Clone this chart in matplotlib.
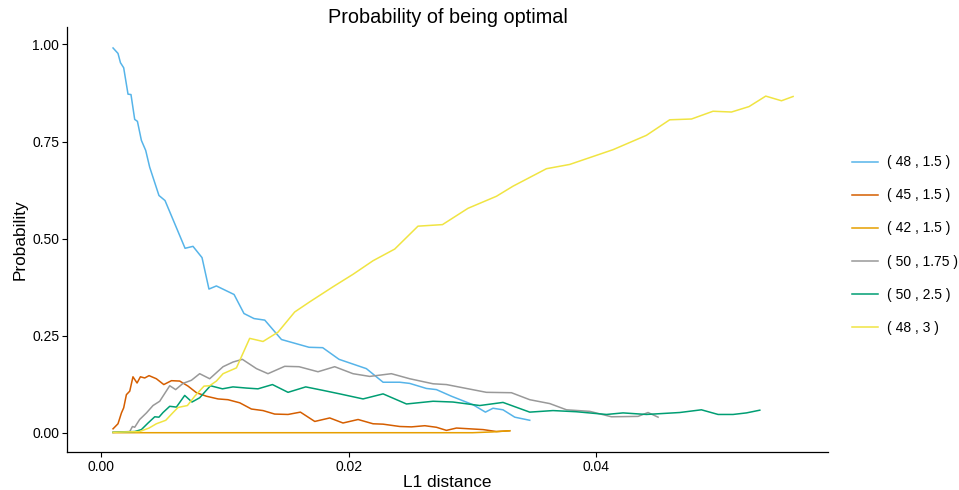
import matplotlib
matplotlib.use("Agg")
import matplotlib.pyplot as plt
import matplotlib.ticker as mticker

plt.rcParams['font.family'] = ['Liberation Sans', 'DejaVu Sans']

# series
labels = ['( 48 , 1.5 )', '( 45 , 1.5 )', '( 42 , 1.5 )',
          '( 50 , 1.75 )', '( 50 , 2.5 )', '( 48 , 3 )']
colors = ['#56B4E9', '#D55E00', '#E69F00', '#999999', '#009E73', '#F0E442']

x_48_15 = [0.00094, 0.00134, 0.00154, 0.00180, 0.00215, 0.00239, 0.00269, 0.00291,
           0.00323, 0.00358, 0.00390, 0.00465, 0.00514, 0.00676, 0.00740, 0.00813,
           0.00869, 0.00929, 0.01072, 0.01152, 0.01233, 0.01320, 0.01455, 0.01678,
           0.01788, 0.01920, 0.02141, 0.02276, 0.02411, 0.02491, 0.02626, 0.02707,
           0.02828, 0.03003, 0.03103, 0.03164, 0.03245, 0.03340, 0.03461]
y_48_15 = [0.991, 0.977, 0.953, 0.940, 0.872, 0.871, 0.807, 0.802,
           0.753, 0.727, 0.684, 0.611, 0.598, 0.475, 0.480, 0.451,
           0.370, 0.378, 0.356, 0.307, 0.294, 0.290, 0.240, 0.220,
           0.219, 0.189, 0.165, 0.130, 0.130, 0.127, 0.114, 0.111,
           0.094, 0.072, 0.053, 0.063, 0.059, 0.040, 0.032]

x_45_15 = [0.00094, 0.00134, 0.00162, 0.00180, 0.00202, 0.00229, 0.00255, 0.00288,
           0.00315, 0.00350, 0.00385, 0.00444, 0.00504, 0.00566, 0.00633, 0.00700,
           0.00768, 0.00848, 0.00942, 0.01023, 0.01118, 0.01212, 0.01306, 0.01400,
           0.01508, 0.01608, 0.01724, 0.01845, 0.01952, 0.02074, 0.02195, 0.02276,
           0.02411, 0.02505, 0.02613, 0.02707, 0.02788, 0.02869, 0.02976, 0.03084,
           0.03192, 0.03299]
y_45_15 = [0.010, 0.023, 0.051, 0.064, 0.098, 0.107, 0.144, 0.128,
           0.144, 0.141, 0.147, 0.139, 0.124, 0.134, 0.133, 0.120,
           0.103, 0.094, 0.087, 0.085, 0.077, 0.061, 0.057, 0.048,
           0.047, 0.053, 0.029, 0.038, 0.025, 0.034, 0.023, 0.022,
           0.016, 0.015, 0.018, 0.014, 0.006, 0.012, 0.010, 0.008,
           0.003, 0.005]

x_42_15 = [0.00094, 0.0100, 0.0200, 0.0300, 0.0316, 0.0330]
y_42_15 = [0.0, 0.0, 0.0, 0.0, 0.002, 0.005]

x_50_175 = [0.00094, 0.00229, 0.00251, 0.00269, 0.00309, 0.00364, 0.00417, 0.00471,
            0.00552, 0.00600, 0.00659, 0.00727, 0.00794, 0.00875, 0.00983, 0.01063,
            0.01139, 0.01253, 0.01346, 0.01481, 0.01597, 0.01750, 0.01885, 0.02033,
            0.02168, 0.02343, 0.02491, 0.02680, 0.02788, 0.02949, 0.03111, 0.03313,
            0.03461, 0.03623, 0.03758, 0.03946, 0.04121, 0.04336, 0.04417, 0.04498]
y_50_175 = [0.001, 0.003, 0.016, 0.014, 0.034, 0.051, 0.070, 0.081,
            0.121, 0.111, 0.127, 0.135, 0.152, 0.139, 0.170, 0.182,
            0.189, 0.165, 0.152, 0.171, 0.170, 0.157, 0.170, 0.152,
            0.145, 0.152, 0.139, 0.126, 0.124, 0.114, 0.104, 0.103,
            0.085, 0.075, 0.059, 0.055, 0.041, 0.042, 0.052, 0.040]

x_50_25 = [0.00094, 0.00269, 0.00323, 0.00377, 0.00431, 0.00465, 0.00498, 0.00552,
           0.00606, 0.00673, 0.00732, 0.00794, 0.00881, 0.00978, 0.01063, 0.01172,
           0.01265, 0.01382, 0.01508, 0.01651, 0.01791, 0.01926, 0.02114, 0.02276,
           0.02465, 0.02680, 0.02841, 0.03057, 0.03245, 0.03461, 0.03649, 0.03838,
           0.04081, 0.04215, 0.04404, 0.04673, 0.04848, 0.04983, 0.05104, 0.05212,
           0.05320]
y_50_25 = [0.001, 0.003, 0.008, 0.025, 0.041, 0.040, 0.052, 0.068,
           0.066, 0.096, 0.079, 0.090, 0.121, 0.113, 0.118, 0.115,
           0.113, 0.124, 0.104, 0.118, 0.109, 0.100, 0.087, 0.100,
           0.074, 0.081, 0.079, 0.070, 0.078, 0.053, 0.057, 0.054,
           0.047, 0.051, 0.047, 0.052, 0.059, 0.047, 0.047, 0.051,
           0.058]

x_48_3 = [0.00094, 0.00309, 0.00385, 0.00444, 0.00520, 0.00579, 0.00619, 0.00695,
          0.00754, 0.00829, 0.00875, 0.00929, 0.00983, 0.01091, 0.01198, 0.01306,
          0.01427, 0.01562, 0.01683, 0.01872, 0.02033, 0.02195, 0.02370, 0.02558,
          0.02756, 0.02962, 0.03192, 0.03326, 0.03596, 0.03784, 0.04134, 0.04404,
          0.04592, 0.04768, 0.04942, 0.05091, 0.05233, 0.05368, 0.05495, 0.05589]
y_48_3 = [0.001, 0.003, 0.012, 0.023, 0.032, 0.052, 0.065, 0.070,
          0.094, 0.120, 0.121, 0.133, 0.152, 0.167, 0.243, 0.235,
          0.259, 0.311, 0.337, 0.376, 0.408, 0.443, 0.473, 0.532,
          0.536, 0.578, 0.609, 0.635, 0.680, 0.691, 0.729, 0.766,
          0.806, 0.808, 0.828, 0.826, 0.840, 0.867, 0.855, 0.866]

xs = [x_48_15, x_45_15, x_42_15, x_50_175, x_50_25, x_48_3]
ys = [y_48_15, y_45_15, y_42_15, y_50_175, y_50_25, y_48_3]

fig = plt.figure(figsize=(9.59, 4.90), dpi=100)
ax = fig.add_axes([67 / 959, 38 / 490, 761 / 959, 425 / 490])

for x, y, c, lab in zip(xs, ys, colors, labels):
    ax.plot(x, y, color=c, lw=1.1, label=lab)

ax.set_xlim(-0.00278, 0.05871)
ax.set_ylim(-0.0497, 1.045)
ax.set_xticks([0.0, 0.02, 0.04])
ax.set_yticks([0.0, 0.25, 0.5, 0.75, 1.0])
ax.xaxis.set_major_formatter(mticker.FormatStrFormatter('%.2f'))
ax.yaxis.set_major_formatter(mticker.FormatStrFormatter('%.2f'))

for s in ['top', 'right']:
    ax.spines[s].set_visible(False)
for s in ['left', 'bottom']:
    ax.spines[s].set_linewidth(0.9)
ax.tick_params(direction='out', length=3.5, width=0.8, labelsize=10, pad=2, colors='black')

ax.set_title('Probability of being optimal', fontsize=14.3, pad=2)
ax.set_xlabel('L1 distance', fontsize=12.4, labelpad=1)
ax.set_ylabel('Probability', fontsize=12.4, labelpad=3)

fig.legend(loc='center left', bbox_to_anchor=(852 / 959, 1 - 245 / 490), frameon=False,
           fontsize=10, handlelength=1.87, handletextpad=0.65, labelspacing=1.37,
           borderpad=0, borderaxespad=0)

plt.savefig('out.png', dpi=100)
